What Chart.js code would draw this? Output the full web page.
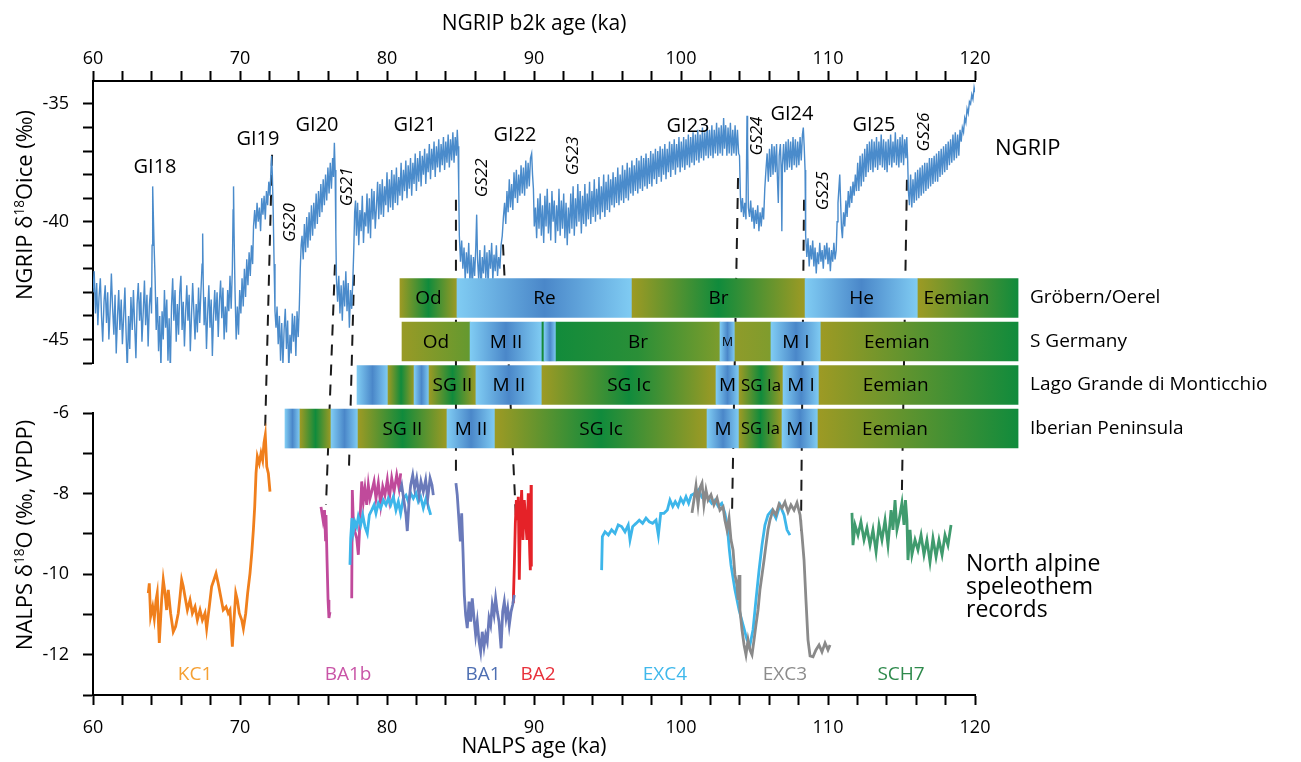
<!DOCTYPE html>
<html>
<head>
<meta charset="utf-8">
<script src="https://cdn.jsdelivr.net/npm/chart.js@4.4.1/dist/chart.umd.min.js"></script>
<style>
  html, body { margin: 0; padding: 0; background: #fff; }
  canvas { display: block; }
</style>
</head>
<body>
<canvas id="fig" width="1301" height="762"></canvas>
<script>
// ===== data =====

// tick values
const ageTicks = [60,62,64,66,68,70,72,74,76,78,80,82,84,86,88,90,92,94,96,98,100,102,104,106,108,110,112,114,116,118,120];
const ngripTicks = [-35,-36,-37,-38,-39,-40,-41,-42,-43,-44,-45,-46];
const nalpsTicks = [-6,-7,-8,-9,-10,-11,-12,-13];

// NGRIP d18O ice [age ka, permil]
const ngrip = [
  [60.00,-43.0],[60.08,-42.1],[60.17,-43.9],[60.25,-42.6],[60.33,-44.4],[60.41,-43.2],[60.50,-42.4],[60.58,-44.0],[60.66,-45.1],[60.75,-43.4],
  [60.83,-42.7],[60.92,-44.3],[61.00,-43.0],[61.08,-45.0],[61.17,-43.7],[61.25,-42.2],[61.33,-43.6],[61.42,-44.8],[61.50,-43.1],[61.58,-45.6],
  [61.67,-44.0],[61.75,-42.9],[61.83,-44.6],[61.92,-43.3],[62.00,-45.2],[62.08,-44.1],[62.17,-42.8],[62.25,-44.7],[62.33,-46.3],[62.42,-44.0],
  [62.50,-45.4],[62.58,-43.2],[62.67,-44.6],[62.75,-42.9],[62.83,-44.3],[62.92,-45.8],[63.00,-43.5],[63.08,-42.6],[63.17,-44.2],[63.25,-43.0],
  [63.33,-45.1],[63.42,-43.8],[63.50,-42.5],[63.58,-44.4],[63.67,-43.1],[63.75,-45.3],[63.83,-43.6],[63.92,-42.8],[63.98,-43.9],[64.02,-41.0],
  [64.06,-38.5],[64.10,-39.6],[64.15,-40.9],[64.22,-42.3],[64.30,-44.6],[64.38,-43.2],[64.46,-45.5],[64.54,-44.0],[64.62,-46.2],[64.70,-43.8],
  [64.78,-45.0],[64.86,-42.9],[64.94,-44.5],[65.02,-43.3],[65.10,-45.9],[65.18,-44.1],[65.26,-46.4],[65.34,-43.6],[65.42,-42.4],[65.50,-44.2],
  [65.58,-42.9],[65.66,-45.1],[65.74,-43.5],[65.82,-44.8],[65.90,-43.0],[65.98,-42.3],[66.06,-44.6],[66.14,-43.4],[66.22,-45.3],[66.30,-43.9],
  [66.38,-42.7],[66.46,-44.2],[66.54,-43.1],[66.62,-45.5],[66.70,-44.0],[66.78,-42.6],[66.86,-43.8],[66.94,-45.0],[67.02,-43.5],[67.10,-44.7],
  [67.18,-42.8],[67.26,-44.3],[67.34,-43.0],[67.42,-41.8],[67.46,-40.5],[67.50,-42.6],[67.56,-44.4],[67.64,-43.2],[67.72,-45.4],[67.80,-43.9],
  [67.88,-42.7],[67.96,-44.5],[68.04,-43.3],[68.12,-45.7],[68.20,-44.0],[68.28,-42.9],[68.36,-44.2],[68.44,-43.0],[68.52,-44.9],[68.60,-43.4],
  [68.68,-42.5],[68.76,-44.1],[68.84,-42.8],[68.92,-45.0],[69.00,-43.6],[69.08,-44.7],[69.16,-42.9],[69.24,-43.8],[69.32,-42.3],[69.40,-43.7],
  [69.48,-42.0],[69.53,-39.5],[69.56,-38.5],[69.60,-40.6],[69.66,-42.9],[69.74,-45.0],[69.82,-43.6],[69.90,-44.8],[69.98,-42.9],[70.06,-43.9],
  [70.14,-42.4],[70.22,-43.6],[70.30,-42.0],[70.38,-43.2],[70.46,-41.6],[70.54,-42.7],[70.62,-41.3],[70.70,-42.3],[70.78,-41.0],[70.86,-41.8],
  [70.92,-40.2],[71.00,-39.5],[71.08,-40.3],[71.16,-39.2],[71.24,-40.0],[71.32,-39.4],[71.40,-40.4],[71.48,-39.0],[71.56,-39.7],[71.64,-38.9],
  [71.72,-39.9],[71.80,-38.7],[71.88,-39.3],[71.96,-38.3],[72.04,-38.9],[72.10,-37.9],[72.15,-37.2],[72.20,-38.0],[72.26,-39.6],[72.32,-41.8],
  [72.38,-43.8],[72.45,-44.5],[72.52,-43.6],[72.60,-45.2],[72.68,-44.0],[72.76,-45.9],[72.84,-44.3],[72.92,-46.1],[73.00,-44.6],[73.08,-43.7],
  [73.16,-45.4],[73.24,-44.2],[73.32,-46.3],[73.40,-44.8],[73.48,-45.6],[73.56,-43.9],[73.64,-45.1],[73.72,-44.0],[73.80,-45.7],[73.88,-43.8],
  [73.96,-44.9],[74.04,-43.5],[74.10,-42.0],[74.16,-41.0],[74.22,-40.6],[74.30,-41.6],[74.38,-40.1],[74.46,-41.3],[74.54,-39.8],[74.62,-41.1],
  [74.70,-39.6],[74.78,-40.8],[74.86,-39.3],[74.94,-40.6],[75.02,-39.2],[75.10,-40.3],[75.18,-38.8],[75.26,-40.1],[75.34,-38.7],[75.42,-39.8],
  [75.50,-38.4],[75.58,-39.6],[75.66,-38.2],[75.74,-39.3],[75.82,-38.0],[75.90,-39.1],[75.98,-37.7],[76.06,-38.8],[76.14,-37.5],[76.22,-38.6],
  [76.30,-37.3],[76.36,-38.1],[76.42,-36.65],[76.47,-37.8],[76.52,-40.5],[76.56,-42.4],[76.64,-43.4],[76.72,-42.3],[76.80,-43.9],[76.88,-42.7],
  [76.96,-44.2],[77.04,-42.5],[77.12,-43.6],[77.20,-42.1],[77.28,-43.8],[77.36,-42.6],[77.44,-44.5],[77.52,-42.9],[77.60,-43.7],[77.68,-42.4],
  [77.74,-41.2],[77.80,-39.6],[77.86,-39.1],[77.92,-40.6],[78.00,-39.2],[78.08,-41.0],[78.16,-39.5],[78.24,-40.4],[78.32,-38.9],[78.40,-40.9],
  [78.48,-39.6],[78.56,-40.2],[78.64,-38.8],[78.72,-40.5],[78.80,-39.0],[78.88,-40.7],[78.96,-38.6],[79.04,-39.9],[79.12,-38.7],[79.20,-40.3],
  [79.28,-39.4],[79.36,-38.3],[79.44,-39.9],[79.52,-38.4],[79.60,-39.7],[79.68,-38.2],[79.76,-39.8],[79.84,-38.5],[79.92,-39.3],[80.00,-37.9],
  [80.08,-39.6],[80.16,-38.2],[80.24,-39.4],[80.32,-37.8],[80.40,-39.5],[80.48,-38.0],[80.56,-39.2],[80.64,-37.7],[80.72,-39.3],[80.80,-38.1],
  [80.88,-38.9],[80.96,-37.5],[81.04,-39.1],[81.12,-37.8],[81.20,-38.7],[81.28,-37.4],[81.36,-39.0],[81.44,-37.6],[81.52,-38.6],[81.60,-37.3],
  [81.68,-38.9],[81.76,-37.5],[81.84,-38.4],[81.92,-37.1],[82.00,-38.7],[82.08,-37.3],[82.16,-38.3],[82.24,-37.0],[82.32,-38.5],[82.40,-37.2],
  [82.48,-38.0],[82.56,-36.9],[82.64,-38.4],[82.72,-37.1],[82.80,-37.9],[82.88,-36.7],[82.96,-38.2],[83.04,-36.9],[83.12,-37.8],[83.20,-36.6],
  [83.28,-38.1],[83.36,-36.8],[83.44,-37.7],[83.52,-36.5],[83.60,-37.9],[83.68,-36.7],[83.76,-37.6],[83.84,-36.4],[83.92,-37.8],[84.00,-36.6],
  [84.08,-37.5],[84.16,-36.3],[84.24,-37.7],[84.32,-36.5],[84.40,-37.4],[84.48,-36.2],[84.56,-37.5],[84.64,-36.4],[84.72,-37.2],[84.78,-36.1],
  [84.83,-36.8],[84.88,-38.6],[84.92,-40.6],[85.00,-41.7],[85.08,-40.8],[85.16,-42.0],[85.24,-41.1],[85.32,-42.5],[85.40,-41.3],[85.48,-42.2],
  [85.56,-40.9],[85.64,-42.6],[85.72,-41.4],[85.80,-42.8],[85.88,-41.5],[85.96,-42.3],[86.04,-41.1],[86.10,-39.7],[86.16,-41.6],[86.24,-42.5],
  [86.32,-41.2],[86.40,-42.9],[86.48,-41.5],[86.56,-42.2],[86.64,-41.0],[86.72,-42.4],[86.80,-41.3],[86.88,-42.7],[86.96,-41.2],[87.04,-42.0],
  [87.12,-40.9],[87.20,-42.5],[87.28,-41.4],[87.36,-42.1],[87.44,-41.0],[87.52,-42.3],[87.60,-41.5],[87.68,-42.0],[87.76,-41.0],[87.84,-40.6],
  [87.92,-39.8],[88.00,-39.2],[88.08,-40.1],[88.16,-38.7],[88.24,-39.6],[88.32,-38.2],[88.40,-39.4],[88.48,-38.4],[88.56,-39.5],[88.64,-37.9],
  [88.72,-39.0],[88.80,-37.8],[88.88,-39.2],[88.96,-38.0],[89.04,-38.9],[89.12,-37.6],[89.20,-38.8],[89.28,-37.7],[89.36,-38.9],[89.44,-37.4],
  [89.52,-38.6],[89.60,-37.5],[89.68,-38.5],[89.76,-37.3],[89.84,-37.1],[89.90,-38.0],[89.96,-38.6],[90.02,-40.2],[90.10,-39.4],[90.18,-40.7],
  [90.26,-39.0],[90.34,-40.3],[90.42,-38.8],[90.50,-40.6],[90.58,-39.3],[90.66,-40.9],[90.74,-38.9],[90.82,-40.2],[90.90,-38.6],[90.98,-40.5],
  [91.06,-39.2],[91.14,-40.8],[91.22,-38.7],[91.30,-40.0],[91.38,-39.1],[91.46,-40.9],[91.54,-39.3],[91.62,-40.4],[91.70,-38.6],[91.78,-40.6],
  [91.86,-39.1],[91.94,-40.3],[92.02,-38.8],[92.10,-40.7],[92.18,-39.2],[92.26,-41.0],[92.34,-39.4],[92.42,-40.5],[92.50,-38.8],[92.58,-40.3],
  [92.66,-38.5],[92.74,-40.6],[92.82,-39.0],[92.90,-40.2],[92.98,-38.4],[93.06,-40.0],[93.14,-38.7],[93.22,-40.5],[93.30,-38.9],[93.38,-40.1],
  [93.46,-38.4],[93.54,-40.2],[93.62,-38.8],[93.70,-39.9],[93.78,-38.3],[93.86,-40.1],[93.94,-38.7],[94.02,-39.8],[94.10,-38.2],[94.18,-40.0],
  [94.26,-38.6],[94.34,-39.7],[94.42,-38.1],[94.50,-39.9],[94.58,-38.5],[94.66,-39.6],[94.74,-38.0],[94.82,-39.8],[94.90,-38.3],[94.98,-39.5],
  [95.06,-38.0],[95.14,-39.6],[95.22,-38.2],[95.30,-39.3],[95.38,-37.9],[95.46,-39.4],[95.54,-38.1],[95.62,-39.2],[95.70,-37.7],[95.78,-39.3],
  [95.86,-38.0],[95.94,-39.1],[96.02,-37.6],[96.10,-39.2],[96.18,-37.8],[96.26,-39.0],[96.34,-37.5],[96.42,-39.1],[96.50,-37.7],[96.58,-38.8],
  [96.66,-37.4],[96.74,-38.9],[96.82,-37.6],[96.90,-38.7],[96.98,-37.3],[97.06,-38.8],[97.14,-37.4],[97.22,-38.6],[97.30,-37.2],[97.38,-38.7],
  [97.46,-37.3],[97.54,-38.5],[97.62,-37.1],[97.70,-38.6],[97.78,-37.3],[97.86,-38.4],[97.94,-37.0],[98.02,-38.5],[98.10,-37.1],[98.18,-38.2],
  [98.26,-36.9],[98.34,-38.4],[98.42,-37.0],[98.50,-38.1],[98.58,-36.8],[98.66,-38.3],[98.74,-36.9],[98.82,-38.0],[98.90,-36.7],[98.98,-38.2],
  [99.06,-36.9],[99.14,-37.9],[99.22,-36.6],[99.30,-38.1],[99.38,-36.7],[99.46,-37.8],[99.54,-36.5],[99.62,-38.0],[99.70,-36.7],[99.78,-37.7],
  [99.86,-36.4],[99.94,-37.9],[100.02,-36.6],[100.10,-37.7],[100.18,-36.4],[100.26,-37.8],[100.34,-36.5],[100.42,-37.6],[100.50,-36.3],[100.58,-37.7],
  [100.66,-36.4],[100.74,-37.5],[100.82,-36.2],[100.90,-37.6],[100.98,-36.3],[101.06,-37.4],[101.14,-36.1],[101.22,-37.5],[101.30,-36.3],[101.38,-37.3],
  [101.46,-36.0],[101.54,-37.4],[101.62,-36.2],[101.70,-37.2],[101.78,-35.9],[101.86,-37.3],[101.94,-36.1],[102.02,-37.2],[102.10,-35.9],[102.18,-37.3],
  [102.26,-36.1],[102.34,-37.1],[102.42,-35.8],[102.50,-37.2],[102.58,-36.0],[102.66,-37.1],[102.74,-35.9],[102.82,-37.2],[102.90,-35.6],[102.96,-36.9],
  [103.04,-35.9],[103.12,-37.2],[103.20,-36.0],[103.28,-37.1],[103.36,-35.8],[103.44,-37.2],[103.52,-36.1],[103.60,-37.1],[103.68,-35.9],[103.76,-37.2],
  [103.84,-36.1],[103.92,-37.1],[103.98,-37.2],[104.04,-38.9],[104.10,-39.6],[104.18,-39.0],[104.26,-39.8],[104.34,-39.2],[104.42,-39.9],[104.46,-37.5],
  [104.49,-35.5],[104.53,-36.4],[104.58,-39.4],[104.66,-39.8],[104.74,-39.1],[104.82,-40.0],[104.90,-39.4],[104.98,-40.3],[105.06,-39.5],[105.14,-40.1],
  [105.22,-39.3],[105.30,-40.4],[105.38,-39.6],[105.46,-40.2],[105.54,-39.4],[105.62,-39.9],[105.70,-38.6],[105.78,-37.8],[105.86,-37.1],[105.94,-38.3],
  [106.02,-36.9],[106.10,-38.1],[106.18,-36.7],[106.26,-38.0],[106.34,-36.8],[106.42,-37.9],[106.50,-36.7],[106.56,-38.2],[106.62,-39.2],[106.68,-37.2],
  [106.76,-36.7],[106.82,-37.9],[106.86,-40.4],[106.90,-37.6],[106.98,-36.7],[107.06,-37.9],[107.14,-36.6],[107.22,-37.8],[107.30,-36.5],[107.38,-37.7],
  [107.46,-36.6],[107.54,-37.8],[107.62,-36.4],[107.70,-37.6],[107.78,-36.5],[107.86,-37.7],[107.94,-36.6],[108.02,-37.6],[108.10,-36.4],[108.18,-37.4],
  [108.26,-36.3],[108.32,-36.0],[108.38,-36.8],[108.44,-37.8],[108.48,-40.6],[108.56,-41.5],[108.64,-40.7],[108.72,-41.9],[108.80,-41.0],[108.88,-41.6],
  [108.96,-40.8],[109.04,-41.9],[109.12,-41.1],[109.20,-42.2],[109.28,-41.3],[109.36,-41.8],[109.44,-40.9],[109.52,-41.7],[109.60,-41.2],[109.68,-42.0],
  [109.76,-41.0],[109.84,-41.6],[109.92,-40.9],[110.00,-41.8],[110.08,-41.1],[110.16,-42.1],[110.24,-41.2],[110.32,-41.7],[110.40,-40.9],[110.48,-41.6],
  [110.56,-41.2],[110.62,-40.0],[110.68,-39.2],[110.74,-38.6],[110.80,-38.0],[110.86,-39.2],[110.92,-40.3],[110.98,-40.7],[111.06,-39.6],[111.14,-40.2],
  [111.22,-39.1],[111.30,-39.8],[111.38,-38.7],[111.46,-39.4],[111.54,-38.5],[111.62,-39.2],[111.70,-38.3],[111.78,-38.9],[111.86,-38.0],[111.94,-38.7],
  [112.02,-37.5],[112.10,-38.7],[112.18,-37.2],[112.26,-38.5],[112.34,-37.1],[112.42,-38.3],[112.50,-36.9],[112.58,-38.1],[112.66,-36.7],[112.74,-37.9],
  [112.82,-36.6],[112.90,-37.8],[112.98,-36.5],[113.06,-37.9],[113.14,-36.6],[113.22,-37.7],[113.30,-36.4],[113.38,-37.8],[113.46,-36.6],[113.54,-37.6],
  [113.62,-36.3],[113.70,-37.7],[113.78,-36.5],[113.86,-37.8],[113.94,-36.6],[114.02,-37.9],[114.10,-36.5],[114.18,-37.6],[114.26,-36.3],[114.34,-37.7],
  [114.42,-36.6],[114.50,-37.5],[114.58,-36.2],[114.66,-37.6],[114.74,-36.5],[114.82,-37.7],[114.90,-36.4],[114.98,-37.5],[115.06,-36.3],[115.14,-37.6],
  [115.22,-36.5],[115.30,-37.3],[115.36,-36.4],[115.42,-37.4],[115.47,-38.7],[115.54,-39.3],[115.62,-38.0],[115.70,-39.4],[115.78,-38.2],[115.86,-39.2],
  [115.94,-37.9],[116.02,-39.1],[116.10,-37.8],[116.18,-39.0],[116.26,-37.7],[116.34,-38.9],[116.42,-37.6],[116.50,-38.8],[116.58,-37.5],[116.66,-38.7],
  [116.74,-37.5],[116.82,-38.6],[116.90,-37.3],[116.98,-38.5],[117.06,-37.3],[117.14,-38.4],[117.22,-37.2],[117.30,-38.3],[117.38,-37.1],[117.46,-38.3],
  [117.54,-37.0],[117.62,-38.1],[117.70,-36.9],[117.78,-38.0],[117.86,-36.8],[117.94,-37.9],[118.02,-36.7],[118.10,-37.8],[118.18,-36.6],[118.26,-37.6],
  [118.34,-36.5],[118.42,-37.5],[118.50,-36.3],[118.58,-37.4],[118.66,-36.2],[118.74,-37.3],[118.82,-36.3],[118.90,-37.2],[118.98,-36.1],[119.06,-36.6],
  [119.14,-36.0],[119.22,-36.2],[119.30,-35.6],[119.38,-35.8],[119.46,-35.2],[119.54,-35.4],[119.62,-34.9],[119.70,-35.0],[119.78,-34.6],[119.86,-34.8],
  [119.94,-34.3],[120.00,-34.5]
];

// NALPS speleothem d18O [age ka, permil]
const kc1 = [
  [63.76,-10.47],[63.83,-10.23],[63.92,-11.05],[64.06,-10.81],[64.17,-11.10],[64.29,-10.64],[64.37,-10.47],[64.51,-11.71],[64.67,-10.64],[64.78,-10.14],
  [64.90,-10.47],[65.01,-10.89],[65.12,-10.39],[65.28,-10.97],[65.46,-11.43],[65.62,-11.30],[65.80,-10.97],[65.92,-10.56],[66.03,-10.14],[66.14,-10.31],
  [66.26,-10.56],[66.42,-10.89],[66.60,-10.64],[66.76,-10.97],[66.94,-10.81],[67.10,-11.14],[67.28,-10.89],[67.44,-11.14],[67.62,-10.97],[67.73,-11.35],
  [67.91,-10.81],[68.07,-10.31],[68.23,-10.14],[68.37,-9.98],[68.52,-10.23],[68.69,-10.56],[68.86,-10.89],[69.05,-10.81],[69.20,-10.97],[69.32,-10.89],
  [69.48,-11.80],[69.59,-11.14],[69.71,-10.47],[69.82,-10.64],[69.95,-10.97],[70.12,-11.14],[70.23,-11.35],[70.39,-10.97],[70.52,-10.47],[70.68,-9.98],
  [70.80,-9.48],[70.91,-8.90],[71.00,-8.33],[71.09,-7.50],[71.18,-7.08],[71.31,-7.25],[71.43,-7.00],[71.54,-7.17],[71.63,-6.75],[71.72,-6.55],
  [71.82,-7.33],[71.93,-7.50],[72.04,-7.95]
];
const ba1b = [
  [75.51,-8.33],[75.65,-8.66],[75.75,-8.41],[75.82,-9.15],[75.85,-8.53],[75.92,-9.65],[75.99,-10.64],[76.05,-11.09],[76.12,-10.94],
  [76.5,null],
  [77.60,-10.60],[77.64,-7.91],[77.71,-8.70],[77.82,-8.95],[77.94,-9.11],[78.05,-9.52],[78.16,-8.70],[78.28,-7.70],[78.39,-8.20],[78.50,-7.87],
  [78.62,-8.28],[78.73,-7.79],[78.84,-8.12],[78.96,-7.95],[79.12,-7.70],[79.25,-8.12],[79.41,-7.74],[79.57,-8.28],[79.71,-7.83],[79.86,-8.04],
  [80.02,-7.66],[80.16,-8.12],[80.32,-7.62],[80.48,-7.95],[80.66,-7.54],[80.82,-7.87],[80.93,-7.50]
];
const cyan7883 = [
  [77.48,-9.77],[77.53,-9.11],[77.62,-8.61],[77.71,-8.95],[77.82,-8.70],[77.94,-8.82],[78.05,-8.57],[78.21,-8.78],[78.35,-8.53],[78.50,-8.82],
  [78.66,-8.99],[78.80,-8.53],[78.96,-8.41],[79.12,-8.28],[79.25,-8.49],[79.41,-8.24],[79.57,-8.36],[79.75,-8.16],[79.93,-8.28],[80.09,-8.12],
  [80.25,-8.28],[80.43,-8.08],[80.61,-8.41],[80.77,-8.20],[80.93,-8.49],[81.11,-8.12],[81.29,-8.04],[81.45,-8.20],[81.61,-7.99],[81.79,-8.12],
  [81.97,-7.99],[82.13,-8.20],[82.29,-8.08],[82.47,-8.36],[82.65,-8.12],[82.81,-8.32],[82.97,-8.53]
];
const ba1 = [
  [80.88,-7.95],[81.00,-7.79],[81.16,-8.20],[81.29,-8.53],[81.38,-8.93],[81.50,-8.20],[81.61,-7.79],[81.75,-7.54],[81.88,-7.87],[82.02,-7.62],
  [82.18,-8.04],[82.31,-7.70],[82.47,-7.95],[82.63,-7.66],[82.77,-8.12],[82.93,-7.62],[83.06,-7.79],[83.15,-8.04],
  [84.0,null],
  [84.69,-7.74],[84.78,-8.04],[84.90,-8.70],[84.99,-9.19],[85.08,-8.49],[85.17,-9.44],[85.26,-10.52],[85.35,-11.01],[85.46,-11.34],[85.58,-10.68],
  [85.69,-11.18],[85.80,-10.60],[85.92,-11.09],[86.03,-11.51],[86.14,-11.18],[86.26,-11.67],[86.37,-11.92],[86.48,-11.43],[86.60,-11.80],[86.71,-11.51],
  [86.82,-11.67],[86.94,-11.09],[87.05,-11.26],[87.16,-10.76],[87.28,-11.01],[87.39,-10.60],[87.50,-10.93],[87.62,-11.18],[87.76,-11.84],[87.87,-10.93],
  [87.98,-10.68],[88.10,-11.09],[88.21,-10.85],[88.32,-11.26],[88.44,-10.93],[88.55,-10.76],[88.66,-10.52]
];
const ba2 = [
  [88.59,-10.72],[88.66,-9.81],[88.73,-8.74],[88.80,-8.16],[88.86,-8.66],[88.93,-8.08],[89.00,-10.14],[89.07,-8.66],[89.16,-7.91],[89.25,-9.15],
  [89.34,-8.16],[89.43,-8.66],[89.52,-9.15],[89.61,-7.99],[89.71,-9.48],[89.75,-9.90],[89.80,-7.79],[89.82,-9.81]
];
const exc4 = [
  [94.60,-9.90],[94.65,-9.07],[94.83,-8.95],[95.06,-9.03],[95.28,-8.90],[95.51,-8.99],[95.73,-8.78],[95.96,-8.82],[96.19,-8.95],[96.41,-8.78],
  [96.53,-9.15],[96.71,-8.82],[96.94,-8.74],[97.16,-8.66],[97.39,-8.74],[97.62,-8.61],[97.84,-8.70],[98.07,-8.74],[98.30,-8.66],[98.46,-9.03],
  [98.62,-8.49],[98.84,-8.49],[99.07,-8.41],[99.25,-8.16],[99.44,-8.32],[99.61,-8.20],[99.80,-8.32],[99.98,-8.12],[100.16,-8.24],[100.34,-8.08],
  [100.52,-8.24],[100.70,-8.04],[100.95,-7.99],[101.18,-7.91],[101.41,-8.08],[101.63,-7.99],[101.86,-8.12],[102.09,-8.24],[102.31,-8.16],[102.54,-8.32],
  [102.77,-8.24],[102.99,-8.49],[103.15,-8.82],[103.29,-9.40],[103.40,-9.77],[103.67,-10.39],[103.95,-10.89],[104.22,-11.26],[104.49,-11.63],[104.69,-11.76],
  [104.90,-11.38],[105.10,-10.64],[105.31,-9.90],[105.51,-9.28],[105.71,-8.78],[105.92,-8.53],[106.19,-8.41],[106.46,-8.61],[106.73,-8.28],[107.01,-8.53],
  [107.21,-8.90],[107.41,-9.03]
];
const exc3 = [
  [100.75,-8.48],[100.88,-8.16],[101.02,-7.81],[101.16,-8.28],[101.29,-7.86],[101.43,-7.74],[101.56,-8.28],[101.70,-7.91],[101.84,-8.16],[102.04,-8.03],
  [102.24,-8.28],[102.45,-8.11],[102.65,-8.41],[102.86,-8.33],[102.99,-8.66],[103.13,-8.90],[103.27,-8.61],[103.40,-9.15],[103.54,-9.40],[103.67,-10.02],
  [103.81,-10.27],[103.88,-10.64],[103.95,-10.02],[104.01,-10.89],[104.15,-11.38],[104.29,-11.76],[104.42,-12.00],[104.56,-11.63],[104.69,-11.88],[104.83,-12.00],
  [104.97,-11.63],[105.10,-11.26],[105.24,-10.89],[105.37,-10.39],[105.51,-10.02],[105.65,-9.65],[105.78,-9.28],[105.92,-8.90],[106.05,-8.66],[106.26,-8.41],
  [106.46,-8.53],[106.67,-8.26],[106.87,-8.36],[107.07,-8.21],[107.28,-8.46],[107.48,-8.28],[107.69,-8.41],[107.89,-8.23],[108.10,-8.53],[108.23,-9.03],
  [108.37,-9.65],[108.50,-10.64],[108.64,-11.63],[108.78,-12.03],[108.98,-12.05],[109.18,-11.88],[109.39,-11.76],[109.59,-11.93],[109.80,-11.71],[110.00,-11.88],
  [110.14,-11.76]
];
const sch7 = [
  [111.63,-8.48],[111.70,-9.28],[111.84,-8.78],[112.04,-9.03],[112.24,-8.70],[112.45,-9.15],[112.65,-8.85],[112.86,-9.28],[113.06,-8.90],[113.27,-9.45],
  [113.47,-8.78],[113.67,-9.15],[113.88,-8.66],[114.08,-9.28],[114.29,-8.41],[114.42,-8.90],[114.56,-8.16],[114.69,-8.90],[114.83,-8.66],[115.03,-8.23],
  [115.17,-8.78],[115.27,-8.16],[115.37,-8.66],[115.44,-9.65],[115.58,-8.90],[115.71,-9.52],[115.92,-9.15],[116.12,-9.40],[116.33,-9.03],[116.53,-9.52],
  [116.73,-9.15],[116.94,-9.70],[117.14,-9.11],[117.35,-9.57],[117.55,-9.15],[117.76,-9.52],[117.96,-9.03],[118.16,-9.28],[118.37,-8.78]
];

// record names under the curves, placed at (age, d18O)
const recordName = ['KC1','BA1b','BA1','BA2','EXC4','EXC3','SCH7'];
const recordNameAge = [66.94, 77.35, 86.53, 90.27, 98.9, 107.07, 114.97];
const recordNameD18O = -12.5;

// Greenland interstadial / stadial names, at (age, NGRIP d18O)
const giName = ['GI18','GI19','GI20','GI21','GI22','GI23','GI24','GI25'];
const giAge = [64.22, 71.22, 75.24, 81.90, 88.71, 100.48, 107.55, 113.13];
const giD18O = [-37.71, -36.48, -35.89, -35.89, -36.31, -35.93, -35.42, -35.89];
const gsName = ['GS20','GS21','GS22','GS23','GS24','GS25','GS26'];
const gsAge = [73.40, 77.28, 86.46, 92.65, 105.17, 109.66, 116.53];
const gsD18O = [-40.04, -38.52, -38.14, -37.20, -36.36, -38.69, -36.19];

// tie lines NGRIP -> NALPS
const tieFromAge = [72.18, 76.46, 77.76, 84.69, 87.89, 103.88, 108.37, 115.37];
const tieFromD18O = [-37.16, -41.82, -42.25, -39.07, -40.97, -38.14, -39.07, -38.22];
const tieToAge = [71.70, 75.85, 77.41, 84.69, 88.78, 103.47, 108.16, 115.03];
const tieToD18O = [-6.55, -8.28, -7.41, -7.46, -8.66, -8.53, -9.03, -7.91];

// pollen zones
const siteName = ['Gröbern/Oerel', 'S Germany', 'Lago Grande di Monticchio', 'Iberian Peninsula'];
const zoneRow = [1,1,1,1,1, 2,2,2,2,2,2,2,2,2, 3,3,3,3,3,3,3,3,3,3, 4,4,4,4,4,4,4,4,4,4];
const zoneFrom = [80.88,84.76,96.67,108.44,116.12, 81.02,85.65,90.54,90.68,91.50,102.65,103.67,106.12,109.52,
  77.96,80.07,81.84,82.86,86.05,90.54,102.38,103.95,106.94,109.39, 73.06,74.08,76.19,78.03,84.08,87.35,101.77,103.95,106.87,109.32];
const zoneTo = [84.76,96.67,108.44,116.12,122.93, 85.65,90.54,90.68,91.50,102.65,103.67,106.12,109.52,122.93,
  80.07,81.84,82.86,86.05,90.54,102.38,103.95,106.94,109.39,122.93, 74.08,76.19,78.03,84.08,87.35,101.77,103.95,106.87,109.32,122.93];
const zoneName = ['Od','Re','Br','He','Eemian', 'Od','M II','','','Br','M','','M I','Eemian',
  '','','','SG II','M II','SG Ic','M','SG Ia','M I','Eemian', '','','','SG II','M II','SG Ic','M','SG Ia','M I','Eemian'];
const zoneKind = ['warm','cold','warm','cold','onset', 'onsetPale','cold','green','cold','decline','cold','olive','cold','onset',
  'cold','warm','cold','warm','cold','warm','cold','warm','cold','onset', 'cold','warm','cold','warm','cold','warm','cold','warm','cold','onset'];

// ===== styles =====
const FONT = "'Open Sans', sans-serif";
const ramps = {
  cold: ['#80ccf3', '#4a87c9', '#80ccf3'],
  warm: ['#9d9a24', '#108b3c', '#9d9a24'],
  onset: ['#9d9a24', '#118b3c'],
  onsetPale: ['#989a26', '#64992f'],
  green: ['#17893a', '#17893a'],
  decline: ['#128b3b', '#2a8f37', '#7c9c2c'],
  olive: ['#8f9b2a', '#7f9c2d']
};
const colors = {
  ngrip: '#4a8bcb', kc1: '#f07f1c', ba1b: '#c04a9b', cyan: '#3db6ea', ba1: '#6a7aba',
  ba2: '#e52228', exc4: '#3db6ea', exc3: '#8a8a8a', sch7: '#409b6e'
};
const nameColor = ['#f5a033', '#c955a7', '#4e6fb2', '#e8313b', '#3fb8eb', '#8c8c8c', '#2e8a4c'];

Chart.defaults.font.family = FONT;
Chart.defaults.color = '#000';

const toXY = arr => arr.map(([x, y]) => ({ x, y }));
const fixW = s => { s.width = 93; };
const fixH = s => { s.height = 40; };

function zoneFill(c) {
  const chart = c.chart;
  const i = c.dataIndex;
  if (i === undefined || !chart.chartArea) return '#888';
  const xs = chart.scales.x;
  const x0 = xs.getPixelForValue(zoneFrom[i]);
  const x1 = xs.getPixelForValue(zoneTo[i]);
  const g = chart.ctx.createLinearGradient(x0, 0, x1, 0);
  const stops = ramps[zoneKind[i]];
  stops.forEach((col, k) => g.addColorStop(k / (stops.length - 1), col));
  return g;
}

function lineSet(label, data, color, yAxisID, width) {
  return {
    type: 'line', label, data: toXY(data), xAxisID: 'x', yAxisID,
    borderColor: color, borderWidth: width, pointRadius: 0, tension: 0, spanGaps: false, fill: false
  };
}

// mixed text with a superscript
function richText(ctx, parts, x, y, size) {
  const ws = parts.map(([t, sup]) => {
    ctx.font = (sup ? size * 0.62 : size) + 'px ' + FONT;
    return ctx.measureText(t).width;
  });
  let cx = x - ws.reduce((a, b) => a + b, 0) / 2;
  ctx.textAlign = 'left';
  ctx.textBaseline = 'alphabetic';
  parts.forEach(([t, sup], k) => {
    ctx.font = (sup ? size * 0.62 : size) + 'px ' + FONT;
    ctx.fillText(t, cx, sup ? y - size * 0.36 : y);
    cx += ws[k];
  });
}

const figureText = {
  id: 'figureText',
  beforeDatasetsDraw(chart) {
    const { ctx, scales } = chart;
    ctx.save();
    ctx.strokeStyle = '#1a1a1a';
    ctx.lineWidth = 2;
    ctx.setLineDash([11, 9]);
    tieFromAge.forEach((a, i) => {
      ctx.beginPath();
      ctx.moveTo(scales.x.getPixelForValue(a), scales.yTop.getPixelForValue(tieFromD18O[i]));
      ctx.lineTo(scales.x.getPixelForValue(tieToAge[i]), scales.yBot.getPixelForValue(tieToD18O[i]));
      ctx.stroke();
    });
    ctx.restore();
  },
  afterDatasetsDraw(chart) {
    const { ctx, scales, chartArea } = chart;
    ctx.save();
    ctx.fillStyle = '#000';
    ctx.textAlign = 'center';
    ctx.textBaseline = 'middle';
    zoneName.forEach((t, i) => {
      if (!t) return;
      const x0 = scales.x.getPixelForValue(zoneFrom[i]);
      const x1 = scales.x.getPixelForValue(zoneTo[i]);
      const cx = x1 > chartArea.right ? x0 + (x1 - x0) * 0.385 : (x0 + x1) / 2;
      let size = 19;
      ctx.font = size + 'px ' + FONT;
      const w = ctx.measureText(t).width;
      if (w > x1 - x0 - 4) size = Math.max(11, size * (x1 - x0 - 4) / w);
      ctx.font = size + 'px ' + FONT;
      ctx.fillText(t, cx, scales.yRows.getPixelForValue(zoneRow[i]) + 1);
    });
    ctx.restore();
  },
  afterDraw(chart) {
    const { ctx, scales, chartArea } = chart;
    const X = v => scales.x.getPixelForValue(v);
    const top = scales.yTop, bot = scales.yBot;
    ctx.save();
    ctx.fillStyle = '#000';
    // axis titles
    ctx.font = '21px ' + FONT;
    ctx.textAlign = 'center';
    ctx.textBaseline = 'alphabetic';
    const midX = (chartArea.left + chartArea.right) / 2;
    ctx.fillText('NGRIP b2k age (ka)', midX, 30);
    ctx.fillText('NALPS age (ka)', midX, 753);

    ctx.save();
    ctx.translate(32, (top.top + top.bottom) / 2 - 17);
    ctx.rotate(-Math.PI / 2);
    richText(ctx, [['NGRIP \u03b4'], ['18', true], ['Oice (\u2030)']], 0, 0, 22);
    ctx.restore();
    ctx.save();
    ctx.translate(32, (bot.top + bot.bottom) / 2 - 19);
    ctx.rotate(-Math.PI / 2);
    richText(ctx, [['NALPS \u03b4'], ['18', true], ['O (\u2030, VPDP)']], 0, 0, 22);
    ctx.restore();

    // GI / GS names
    ctx.textAlign = 'center';
    ctx.textBaseline = 'middle';
    ctx.font = '20px ' + FONT;
    giName.forEach((t, i) => ctx.fillText(t, X(giAge[i]), top.getPixelForValue(giD18O[i])));
    ctx.font = 'italic 17px ' + FONT;
    gsName.forEach((t, i) => {
      ctx.save();
      ctx.translate(X(gsAge[i]), top.getPixelForValue(gsD18O[i]));
      ctx.rotate(-Math.PI / 2);
      ctx.fillText(t, 0, 0);
      ctx.restore();
    });

    // record names
    ctx.font = '19px ' + FONT;
    recordName.forEach((t, i) => {
      ctx.fillStyle = nameColor[i];
      ctx.fillText(t, X(recordNameAge[i]), bot.getPixelForValue(recordNameD18O));
    });

    // right-hand labels
    ctx.fillStyle = '#000';
    ctx.textAlign = 'left';
    ctx.font = '19px ' + FONT;
    siteName.forEach((t, i) => ctx.fillText(t, chartArea.right + 55, scales.yRows.getPixelForValue(i + 1)));
    ctx.textBaseline = 'alphabetic';
    ctx.font = '22px ' + FONT;
    ctx.fillText('NGRIP', chartArea.right + 20, 155);
    ctx.font = '23px ' + FONT;
    ['North alpine', 'speleothem', 'records'].forEach((t, i) => ctx.fillText(t, chartArea.right - 9, 571 + i * 23));
    ctx.restore();
  }
};

const tickFont = { size: 18 };
const axisGrid = { drawOnChartArea: false, drawTicks: true, tickLength: 10, tickWidth: 2, color: '#000' };
const axisBorder = { display: true, color: '#000', width: 2 };

new Chart(document.getElementById('fig'), {
  type: 'line',
  data: {
    datasets: [
      {
        type: 'bar', label: 'pollen zones', indexAxis: 'y', xAxisID: 'x', yAxisID: 'yRows',
        data: zoneFrom.map((f, i) => ({ x: [f, zoneTo[i]], y: zoneRow[i] })),
        backgroundColor: zoneFill, borderWidth: 0, borderSkipped: false, barThickness: 39,
        grouped: false, clip: false
      },
      lineSet('EXC3', exc3, colors.exc3, 'yBot', 2.8),
      lineSet('BA1', ba1, colors.ba1, 'yBot', 2.8),
      lineSet('BA2', ba2, colors.ba2, 'yBot', 2.8),
      lineSet('cyan 78-83', cyan7883, colors.cyan, 'yBot', 2.8),
      lineSet('BA1b', ba1b, colors.ba1b, 'yBot', 2.8),
      lineSet('EXC4', exc4, colors.exc4, 'yBot', 2.8),
      lineSet('KC1', kc1, colors.kc1, 'yBot', 2.8),
      lineSet('SCH7', sch7, colors.sch7, 'yBot', 2.8),
      lineSet('NGRIP', ngrip, colors.ngrip, 'yTop', 1.4)
    ]
  },
  options: {
    responsive: false,
    animation: false,
    devicePixelRatio: 1,
    events: [],
    layout: { padding: { left: 0, right: 326, top: 41, bottom: 27 } },
    plugins: { legend: { display: false }, tooltip: { enabled: false } },
    scales: {
      x: {
        type: 'linear', position: 'bottom', min: 60, max: 120, afterFit: fixH,
        afterBuildTicks: s => { s.ticks = ageTicks.map(v => ({ value: v })); },
        ticks: { autoSkip: false, maxRotation: 0, padding: 12, font: tickFont, callback: v => (v % 10 === 0 ? String(v) : '') },
        grid: axisGrid, border: axisBorder
      },
      x2: {
        type: 'linear', position: 'top', min: 60, max: 120, afterFit: fixH,
        afterBuildTicks: s => { s.ticks = ageTicks.map(v => ({ value: v })); },
        ticks: { autoSkip: false, maxRotation: 0, padding: 1, font: tickFont, callback: v => (v % 10 === 0 ? String(v) : '') },
        grid: axisGrid, border: axisBorder
      },
      yBot: {
        type: 'linear', position: 'left', stack: 'left', stackWeight: 282, min: -13, max: -6, afterFit: fixW,
        afterBuildTicks: s => { s.ticks = nalpsTicks.map(v => ({ value: v })); },
        ticks: { autoSkip: false, padding: 14, font: tickFont, callback: v => (v % 2 === 0 ? String(v) : '') },
        grid: axisGrid, border: axisBorder
      },
      yGap: {
        type: 'linear', position: 'left', stack: 'left', stackWeight: 50, min: 0, max: 1, afterFit: fixW,
        ticks: { display: false }, grid: { display: false }, border: { display: false }
      },
      yTop: {
        type: 'linear', position: 'left', stack: 'left', stackWeight: 282, min: -46, max: -34.025, afterFit: fixW,
        afterBuildTicks: s => { s.ticks = ngripTicks.map(v => ({ value: v })); },
        ticks: { autoSkip: false, padding: 14, font: tickFont, callback: v => (v % 5 === 0 ? String(v) : '') },
        grid: axisGrid, border: axisBorder
      },
      yRows: {
        type: 'linear', display: false, reverse: true, offset: false, grid: { offset: false },
        min: -3.989, max: 10.126
      }
    }
  },
  plugins: [figureText]
});
</script>
</body>
</html>
